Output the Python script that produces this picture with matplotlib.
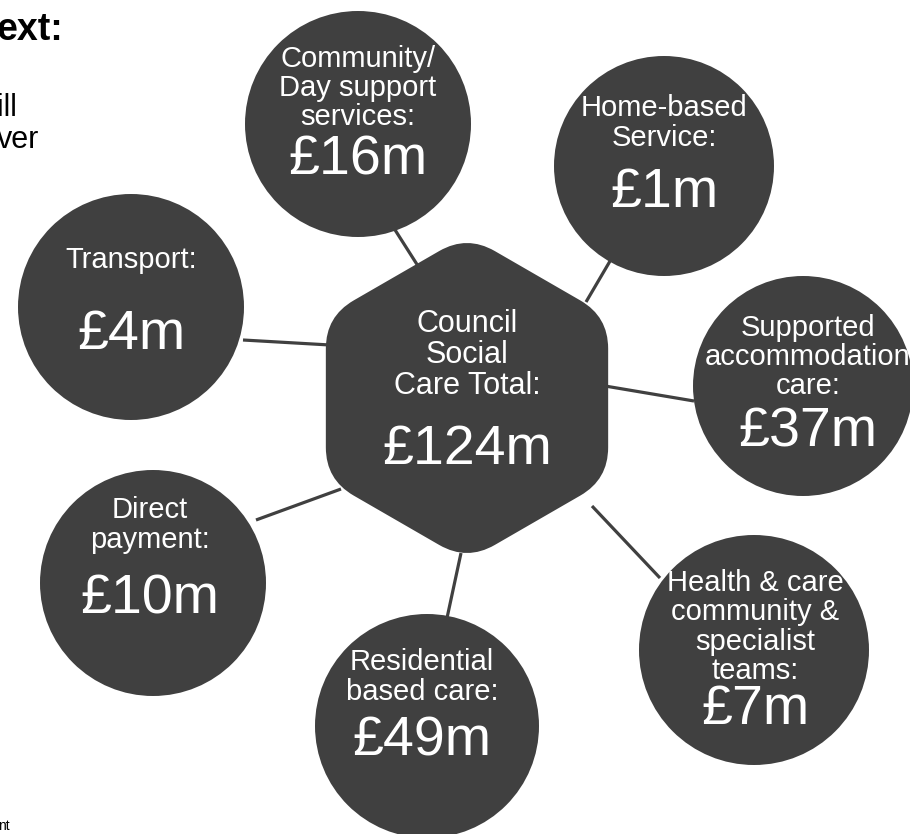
import numpy as np
import matplotlib.pyplot as plt
from matplotlib.patches import Circle, PathPatch
from matplotlib.path import Path

plt.rcParams['font.family'] = ['Liberation Sans', 'DejaVu Sans']

# Data
total_label = 'Council\nSocial\nCare Total:'
total_value = '£124m'
labels = ['Community/\nDay support\nservices:', 'Home-based\nService:', 'Transport:',
          'Supported\naccommodation\ncare:', 'Direct\npayment:', 'Residential\nbased care:',
          'Health & care\ncommunity &\nspecialist\nteams:']
values = ['£16m', '£1m', '£4m', '£37m', '£10m', '£49m', '£7m']

# Layout (pixels, y down)
centers = [(358, 124), (664, 166), (131, 307), (803, 386), (153, 583), (427, 726), (754, 650)]
radii = [113, 110, 113, 110, 113, 112, 115]
label_y = [88, 123, 260, 357, 525, 677, 627]
value_y = [160, 193, 335, 432, 600, 742, 710]
text_x = [358, 664, 131, 808, 150, 422, 755]
# connector segments (circle end, hexagon end)
links = [((390, 222), (418, 266)), ((613, 256), (586, 302)), ((243, 340), (330, 345)),
         ((694, 401), (605, 386)), ((256, 520), (341, 489)), ((447, 618), (461, 553)),
         ((660, 578), (592, 506))]

dark = '#404040'
hex_c = (467, 398)
hex_r = 163

fig = plt.figure(figsize=(9.1, 8.34), dpi=100)
ax = fig.add_axes([0, 0, 1, 1])
ax.set_xlim(0, 910)
ax.set_ylim(834, 0)
ax.axis('off')

for (p0, p1) in links:
    ax.plot([p0[0], p1[0]], [p0[1], p1[1]], color=dark, lw=2.3, zorder=1, solid_capstyle='butt')

# rounded hexagon, pointy top
angles = np.deg2rad([90, 150, 210, 270, 330, 30])
verts = [(hex_c[0] + hex_r * np.cos(a), hex_c[1] - hex_r * np.sin(a)) for a in angles]
d = 32
pts, codes = [], []
n = len(verts)
for i in range(n):
    v = np.array(verts[i])
    prev = np.array(verts[i - 1])
    nxt = np.array(verts[(i + 1) % n])
    a = v + (prev - v) / np.linalg.norm(prev - v) * d
    b = v + (nxt - v) / np.linalg.norm(nxt - v) * d
    if i == 0:
        pts.append(a); codes.append(Path.MOVETO)
    else:
        pts.append(a); codes.append(Path.LINETO)
    pts += [v, b]; codes += [Path.CURVE3, Path.CURVE3]
pts.append(pts[0]); codes.append(Path.CLOSEPOLY)
ax.add_patch(PathPatch(Path(pts, codes), facecolor=dark, edgecolor='none', zorder=2))

ax.text(hex_c[0], 355, total_label, color='white', fontsize=22, ha='center', va='center', linespacing=1.05, zorder=3)
ax.text(hex_c[0], 450, total_value, color='white', fontsize=40, ha='center', va='center', zorder=3)

for i in range(len(labels)):
    ax.add_patch(Circle(centers[i], radii[i], facecolor=dark, edgecolor='none', zorder=2))
    ax.text(text_x[i], label_y[i], labels[i], color='white', fontsize=21, ha='center', va='center',
            linespacing=1.06, zorder=3)
    ax.text(text_x[i], value_y[i], values[i], color='white', fontsize=40, ha='center', va='center', zorder=3)

# cropped slide text on the left
ax.text(-3, 30, 'ext:', fontsize=27, fontweight='bold', color='black', ha='left', va='center')
ax.text(-3, 108, 'ill', fontsize=22, color='black', ha='left', va='center')
ax.text(-3, 140, 'ver', fontsize=22, color='black', ha='left', va='center')
ax.text(-2, 826, 'nt', fontsize=10, color='black', ha='left', va='center')

fig.savefig('out.png', dpi=100, facecolor='white')
